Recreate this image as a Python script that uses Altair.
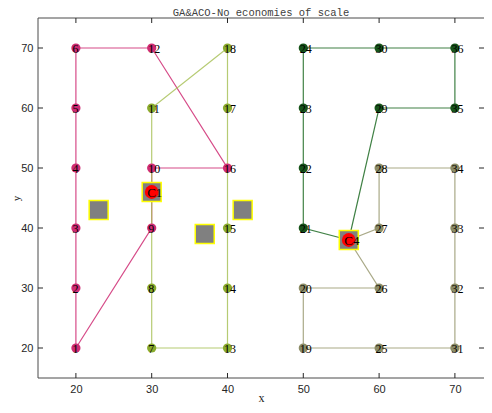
import altair as alt
import pandas as pd

# ---------------- data ----------------
node_id = [1, 2, 3, 4, 5, 6, 7, 8, 9, 10, 11, 12, 13, 14, 15, 16, 17, 18,
           19, 20, 21, 22, 23, 24, 25, 26, 27, 28, 29, 30, 31, 32, 33, 34, 35, 36]
node_x = [20, 20, 20, 20, 20, 20, 30, 30, 30, 30, 30, 30, 40, 40, 40, 40, 40, 40,
          50, 50, 50, 50, 50, 50, 60, 60, 60, 60, 60, 60, 70, 70, 70, 70, 70, 70]
node_y = [20, 30, 40, 50, 60, 70, 20, 30, 40, 50, 60, 70, 20, 30, 40, 50, 60, 70,
          20, 30, 40, 50, 60, 70, 20, 30, 40, 50, 60, 70, 20, 30, 40, 50, 60, 70]
node_route = ["R1", "R1", "R1", "R1", "R1", "R1", "R2", "R2", "R1", "R1", "R2", "R1",
              "R2", "R2", "R2", "R1", "R2", "R2", "R4", "R4", "R3", "R3", "R3", "R3",
              "R4", "R4", "R4", "R4", "R3", "R3", "R4", "R4", "R4", "R4", "R3", "R3"]

cand_x = [23, 30, 37, 42, 56]
cand_y = [43, 46, 39, 43, 38]

depot_label = ["C1", "C4"]
depot_x = [30, 56]
depot_y = [46, 38]

route_names = ["R1", "R2", "R3", "R4"]
route_depot = ["C1", "C1", "C4", "C4"]
route_stops = [
    [10, 16, 12, 6, 5, 4, 3, 2, 1, 9],
    [9, 8, 7, 13, 14, 15, 16, 17, 18, 11, 10],
    [21, 22, 23, 24, 30, 36, 35, 29],
    [27, 28, 34, 33, 32, 31, 25, 19, 20, 26],
]
route_colors = ["#cf2b73", "#a9c25a", "#1f6b25", "#9a9a72"]
node_colors = ["#cf2b73", "#8aab2c", "#17541a", "#8c8c66"]

tick_vals = [20, 30, 40, 50, 60, 70]

# ---------------- tables ----------------
pos = {i: (x, y) for i, x, y in zip(node_id, node_x, node_y)}
dpos = {l: (x, y) for l, x, y in zip(depot_label, depot_x, depot_y)}
rows = []
for name, dep, stops in zip(route_names, route_depot, route_stops):
    seq = [dpos[dep]] + [pos[s] for s in stops] + [dpos[dep]]
    for k, (x, y) in enumerate(seq):
        rows.append({"route": name, "k": k, "x": x, "y": y})
lines_df = pd.DataFrame(rows)
nodes_df = pd.DataFrame({"id": node_id, "x": node_x, "y": node_y, "route": node_route})
nodes_df["lab"] = nodes_df["id"].astype(str)
cand_df = pd.DataFrame({"x": cand_x, "y": cand_y})
depot_df = pd.DataFrame({"lab": depot_label, "x": depot_x, "y": depot_y})
tick_df = pd.DataFrame({"x": tick_vals, "y": tick_vals})
one_df = pd.DataFrame({"k": [0]})

# ---------------- encodings ----------------
W, H = 446, 360
xs = alt.Scale(domain=[15, 73.84], nice=False, zero=False)
ys = alt.Scale(domain=[15, 75], nice=False, zero=False)
x_axis = alt.Axis(values=tick_vals, ticks=False, domain=False, grid=False,
                  labelFont="Liberation Sans", labelFontSize=11, labelColor="#262626",
                  labelPadding=5, title="x", titleFont="Liberation Serif",
                  titleFontSize=12, titleFontWeight="normal", titleColor="#262626",
                  titlePadding=-1.5)
y_axis = alt.Axis(values=tick_vals, ticks=False, domain=False, grid=False,
                  labelFont="Liberation Sans", labelFontSize=11, labelColor="#262626",
                  labelPadding=5, title="y", titleFont="Liberation Serif",
                  titleFontSize=11, titleFontWeight="normal", titleColor="#262626",
                  titlePadding=-1)
X = alt.X("x:Q", scale=xs, axis=x_axis)
Y = alt.Y("y:Q", scale=ys, axis=y_axis)

lines = alt.Chart(lines_df).mark_line(strokeWidth=1.2, opacity=0.85).encode(
    x=X, y=Y, detail="route:N", order="k:Q",
    color=alt.Color("route:N", scale=alt.Scale(domain=route_names, range=route_colors),
                    legend=None),
)

fc = "#4a4a4a"
border_l = alt.Chart(one_df).mark_rule(color=fc).encode(x=alt.value(0), y=alt.value(0), y2=alt.value(H))
border_t = alt.Chart(one_df).mark_rule(color=fc).encode(y=alt.value(0), x=alt.value(0), x2=alt.value(W))
border_b = alt.Chart(one_df).mark_rule(color=fc).encode(y=alt.value(H), x=alt.value(0), x2=alt.value(W))

tk = "#262626"
tick_b = alt.Chart(tick_df).mark_rule(color=tk).encode(x=X, y=alt.value(H), y2=alt.value(H - 5))
tick_t = alt.Chart(tick_df).mark_rule(color=tk).encode(x=X, y=alt.value(0), y2=alt.value(5))
tick_l = alt.Chart(tick_df).mark_rule(color=tk).encode(y=Y, x=alt.value(0), x2=alt.value(5))
tick_r = alt.Chart(tick_df).mark_rule(color=tk).encode(y=Y, x=alt.value(W), x2=alt.value(W - 5))

squares = alt.Chart(cand_df).mark_square(size=361, fill="#808080", stroke="#ffff00",
                                         strokeWidth=1.5, opacity=1).encode(x=X, y=Y)

depots = alt.Chart(depot_df).mark_circle(size=190, color="#ff0000", opacity=1).encode(x=X, y=Y)

nodes = alt.Chart(nodes_df).mark_circle(size=85, opacity=1).encode(
    x=X, y=Y,
    color=alt.Color("route:N", scale=alt.Scale(domain=route_names, range=node_colors),
                    legend=None),
)

node_labels = alt.Chart(nodes_df).mark_text(
    align="left", baseline="middle", dx=-3.5, dy=0.5, font="Liberation Serif",
    fontSize=12, color="#000000").encode(x=X, y=Y, text="lab:N")

depot_labels = alt.Chart(depot_df).mark_text(
    align="left", baseline="middle", dx=-4.5, dy=0.5, font="Liberation Serif",
    fontSize=13, color="#000000").encode(x=X, y=Y, text="lab:N")

chart = alt.layer(
    lines, border_l, border_t, border_b, tick_b, tick_t, tick_l, tick_r,
    squares, depots, nodes, node_labels, depot_labels
).resolve_scale(color="independent").properties(
    width=W, height=H,
    autosize=alt.AutoSizeParams(type="none"),
    padding={"left": 30, "top": 10, "right": 0, "bottom": 27},
    title=alt.TitleParams("GA&ACO-No economies of scale", font="Liberation Mono",
                          fontSize=10.5, fontWeight="normal", color="#404040",
                          offset=-1),
).configure_view(strokeWidth=0)

chart.save("out.html", embed_options={"renderer": "svg", "actions": False})
